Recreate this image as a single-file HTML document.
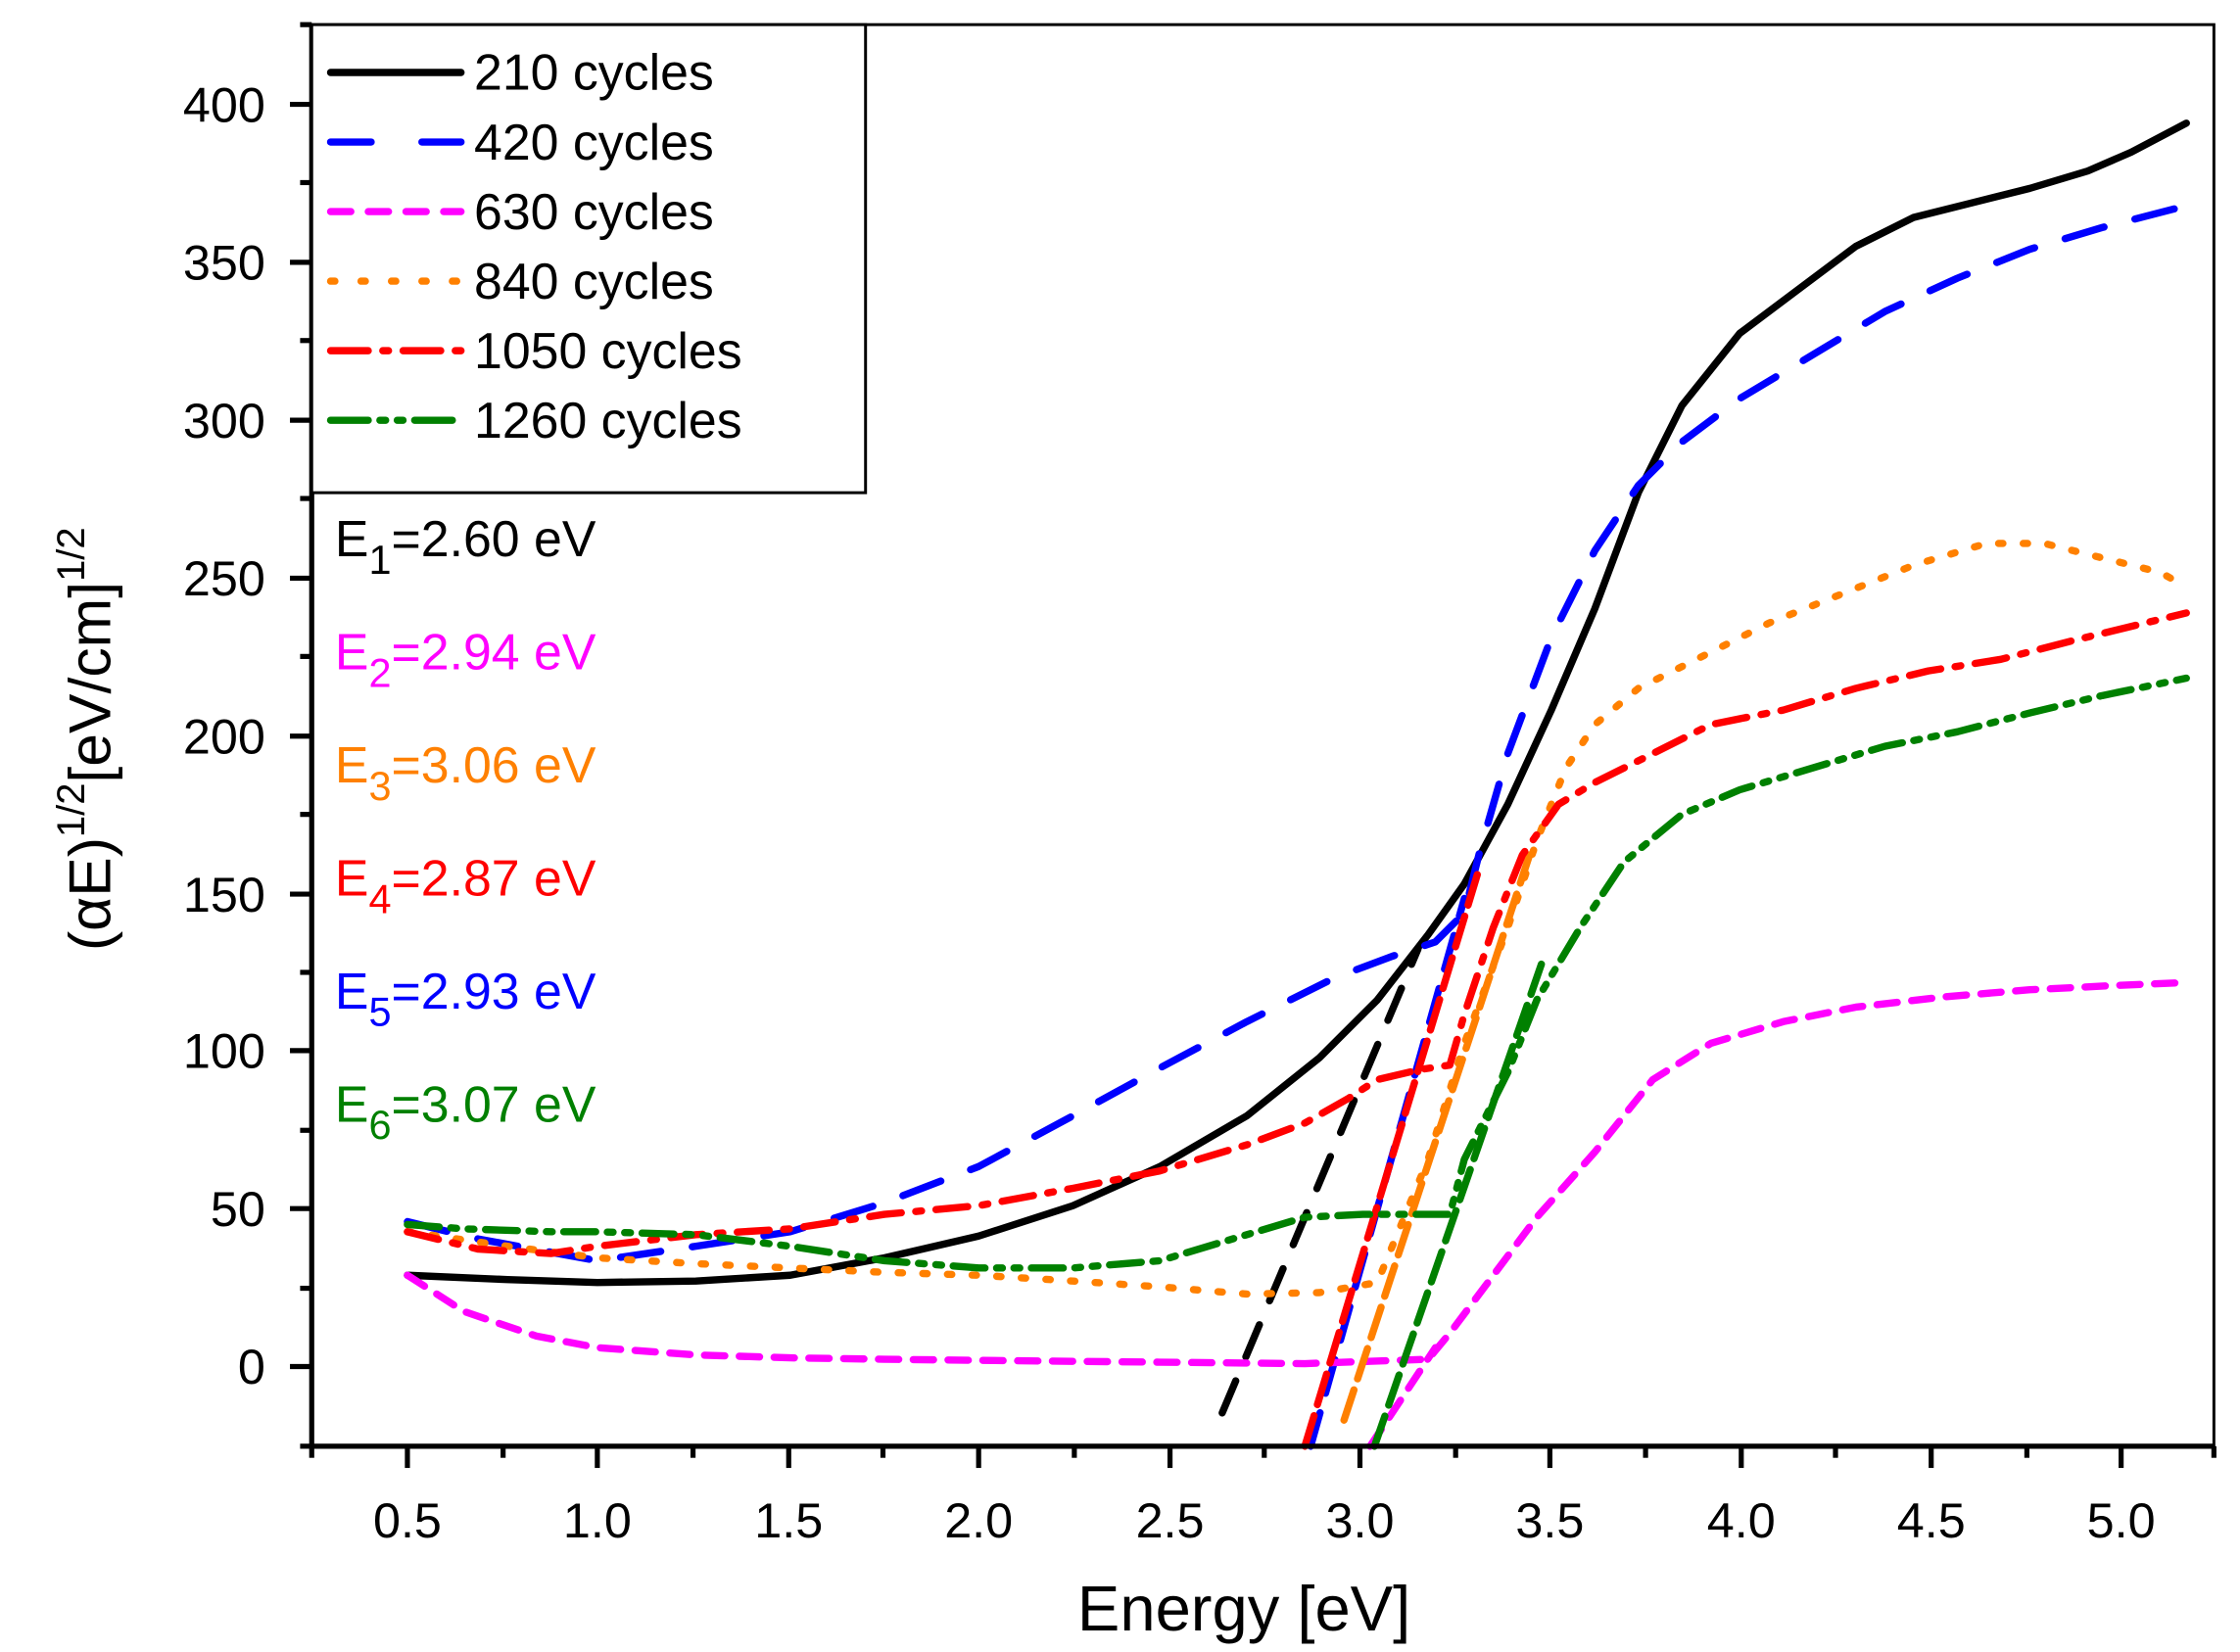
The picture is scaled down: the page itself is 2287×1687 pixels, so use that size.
<!DOCTYPE html>
<html><head><style>html,body{margin:0;padding:0;background:#fff}svg{display:block}</style></head><body>
<svg width="2287" height="1687" viewBox="0 0 1545 1140" preserveAspectRatio="none" xmlns="http://www.w3.org/2000/svg" font-family="Liberation Sans, sans-serif">
<rect width="1545" height="1140" fill="#fff"/>
<g fill="none" stroke-linecap="round" stroke-linejoin="round" stroke-width="5">
<polyline stroke="#000" points="281,880 350,883 412,885 480,884 545,880 610,868 675,853 740,832 800,805 860,770 910,730 950,690 985,645 1010,610 1040,555 1070,490 1100,420 1130,340 1160,280 1200,230 1240,200 1280,170 1320,150 1360,140 1400,130 1440,118 1470,105 1508,85"/>
<line stroke="#000" stroke-dasharray="24,18" x1="843" y1="975" x2="978" y2="655"/>
<polyline stroke="#0000ff" stroke-dasharray="28,22" points="281,843 330,855 412,870 480,860 545,850 610,830 675,805 740,770 800,737 860,705 920,675 960,660 990,650 1010,630 1020,590 1040,520 1070,440 1100,380 1130,335 1160,305 1200,275 1250,245 1300,215 1350,192 1400,172 1450,157 1508,142"/>
<line stroke="#0000ff" stroke-dasharray="24,14" x1="904" y1="998" x2="1010" y2="620"/>
<polyline stroke="#ff00ff" stroke-dasharray="14,10" points="281,880 320,905 370,922 412,930 480,935 545,937 610,938 700,939 800,940 900,941 985,938 1000,920 1030,880 1060,840 1100,795 1140,745 1180,720 1230,705 1280,695 1340,688 1400,683 1460,680 1508,678"/>
<line stroke="#ff00ff" stroke-dasharray="14,10" x1="945" y1="998" x2="990" y2="930"/>
<polyline stroke="#ff8000" stroke-dasharray="3,14" points="281,850 350,860 412,868 480,872 545,875 610,878 675,880 740,884 800,888 860,893 910,892 950,885 985,800 1010,720 1040,640 1060,580 1080,530 1100,500 1130,475 1170,455 1220,430 1270,410 1320,390 1370,375 1410,375 1450,385 1490,395 1508,405"/>
<line stroke="#ff8000" stroke-dasharray="22,8" x1="927" y1="980" x2="1055" y2="590"/>
<polyline stroke="#ff0000" stroke-dasharray="22,10,4,10" points="281,850 330,862 380,865 412,860 480,852 545,848 610,838 675,832 740,820 800,808 860,790 900,775 930,758 950,745 980,738 1000,735 1010,700 1030,640 1050,590 1075,555 1100,540 1140,520 1180,500 1230,490 1280,475 1330,463 1380,455 1430,442 1508,423"/>
<line stroke="#ff0000" stroke-dasharray="22,8" x1="900" y1="998" x2="1020" y2="600"/>
<polyline stroke="#008000" stroke-dasharray="22,8,4,8,4,8" points="281,845 320,848 380,850 412,850 480,852 545,860 610,870 675,875 740,875 800,870 860,852 900,840 940,838 980,838 1000,838 1010,800 1040,740 1060,690 1090,640 1120,595 1160,562 1200,545 1250,530 1300,515 1350,505 1400,492 1450,480 1508,468"/>
<line stroke="#008000" stroke-dasharray="22,8" x1="948" y1="998" x2="1065" y2="660"/>
</g>
<rect x="215" y="17" width="1312" height="981" fill="none" stroke="#000" stroke-width="2"/>
<g stroke="#000" stroke-width="3.5">
<line x1="215" y1="17" x2="215" y2="998"/><line x1="215" y1="998" x2="1527" y2="998"/>
<line x1="200" y1="943" x2="215" y2="943"/><line x1="200" y1="834" x2="215" y2="834"/><line x1="200" y1="725" x2="215" y2="725"/><line x1="200" y1="617" x2="215" y2="617"/><line x1="200" y1="508" x2="215" y2="508"/><line x1="200" y1="399" x2="215" y2="399"/><line x1="200" y1="290" x2="215" y2="290"/><line x1="200" y1="181" x2="215" y2="181"/><line x1="200" y1="72" x2="215" y2="72"/>
<line x1="207" y1="998" x2="215" y2="998"/><line x1="207" y1="889" x2="215" y2="889"/><line x1="207" y1="780" x2="215" y2="780"/><line x1="207" y1="671" x2="215" y2="671"/><line x1="207" y1="562" x2="215" y2="562"/><line x1="207" y1="453" x2="215" y2="453"/><line x1="207" y1="344" x2="215" y2="344"/><line x1="207" y1="235" x2="215" y2="235"/><line x1="207" y1="126" x2="215" y2="126"/><line x1="207" y1="17" x2="215" y2="17"/>
<line x1="281" y1="998" x2="281" y2="1013"/><line x1="412" y1="998" x2="412" y2="1013"/><line x1="544" y1="998" x2="544" y2="1013"/><line x1="675" y1="998" x2="675" y2="1013"/><line x1="807" y1="998" x2="807" y2="1013"/><line x1="938" y1="998" x2="938" y2="1013"/><line x1="1069" y1="998" x2="1069" y2="1013"/><line x1="1201" y1="998" x2="1201" y2="1013"/><line x1="1332" y1="998" x2="1332" y2="1013"/><line x1="1463" y1="998" x2="1463" y2="1013"/>
<line x1="215" y1="998" x2="215" y2="1006"/><line x1="347" y1="998" x2="347" y2="1006"/><line x1="478" y1="998" x2="478" y2="1006"/><line x1="609" y1="998" x2="609" y2="1006"/><line x1="741" y1="998" x2="741" y2="1006"/><line x1="872" y1="998" x2="872" y2="1006"/><line x1="1004" y1="998" x2="1004" y2="1006"/><line x1="1135" y1="998" x2="1135" y2="1006"/><line x1="1266" y1="998" x2="1266" y2="1006"/><line x1="1398" y1="998" x2="1398" y2="1006"/><line x1="1527" y1="998" x2="1527" y2="1006"/>
</g>
<g font-size="34" text-anchor="end" fill="#000">
<text x="183" y="955">0</text><text x="183" y="846">50</text><text x="183" y="737">100</text><text x="183" y="629">150</text><text x="183" y="520">200</text><text x="183" y="411">250</text><text x="183" y="302">300</text><text x="183" y="193">350</text><text x="183" y="84">400</text>
</g>
<g font-size="34" text-anchor="middle" fill="#000">
<text x="281" y="1061">0.5</text><text x="412" y="1061">1.0</text><text x="544" y="1061">1.5</text><text x="675" y="1061">2.0</text><text x="807" y="1061">2.5</text><text x="938" y="1061">3.0</text><text x="1069" y="1061">3.5</text><text x="1201" y="1061">4.0</text><text x="1332" y="1061">4.5</text><text x="1463" y="1061">5.0</text>
</g>
<text x="858" y="1125" font-size="44" text-anchor="middle">Energy [eV]</text>
<text transform="translate(76,510) rotate(-90)" font-size="41" text-anchor="middle">(αE)<tspan font-size="27" dy="-18">1/2</tspan><tspan dy="18">[eV/cm]</tspan><tspan font-size="27" dy="-18">1/2</tspan></text>
<rect x="215" y="17" width="382" height="323" fill="#fff" stroke="#000" stroke-width="2"/>
<g stroke-width="5" stroke-linecap="round" fill="none">
<line x1="228" y1="50" x2="318" y2="50" stroke="#000"/>
<line x1="228" y1="98" x2="318" y2="98" stroke="#0000ff" stroke-dasharray="28,35"/>
<line x1="228" y1="146" x2="318" y2="146" stroke="#ff00ff" stroke-dasharray="14,12"/>
<line x1="228" y1="194" x2="318" y2="194" stroke="#ff8000" stroke-dasharray="3,18"/>
<line x1="228" y1="242" x2="318" y2="242" stroke="#ff0000" stroke-dasharray="26,10,4,10"/>
<line x1="228" y1="290" x2="318" y2="290" stroke="#008000" stroke-dasharray="26,8,4,8,4,8"/>
</g>
<g font-size="35" fill="#000">
<text x="327" y="62">210 cycles</text><text x="327" y="110">420 cycles</text><text x="327" y="158">630 cycles</text><text x="327" y="206">840 cycles</text><text x="327" y="254">1050 cycles</text><text x="327" y="302">1260 cycles</text>
</g>
<g font-size="35">
<text x="231" y="384" fill="#000">E<tspan font-size="28" dy="12">1</tspan><tspan dy="-12">=2.60 eV</tspan></text>
<text x="231" y="462" fill="#ff00ff">E<tspan font-size="28" dy="12">2</tspan><tspan dy="-12">=2.94 eV</tspan></text>
<text x="231" y="540" fill="#ff8000">E<tspan font-size="28" dy="12">3</tspan><tspan dy="-12">=3.06 eV</tspan></text>
<text x="231" y="618" fill="#ff0000">E<tspan font-size="28" dy="12">4</tspan><tspan dy="-12">=2.87 eV</tspan></text>
<text x="231" y="696" fill="#0000ff">E<tspan font-size="28" dy="12">5</tspan><tspan dy="-12">=2.93 eV</tspan></text>
<text x="231" y="774" fill="#008000">E<tspan font-size="28" dy="12">6</tspan><tspan dy="-12">=3.07 eV</tspan></text>
</g>
</svg>
</body></html>
